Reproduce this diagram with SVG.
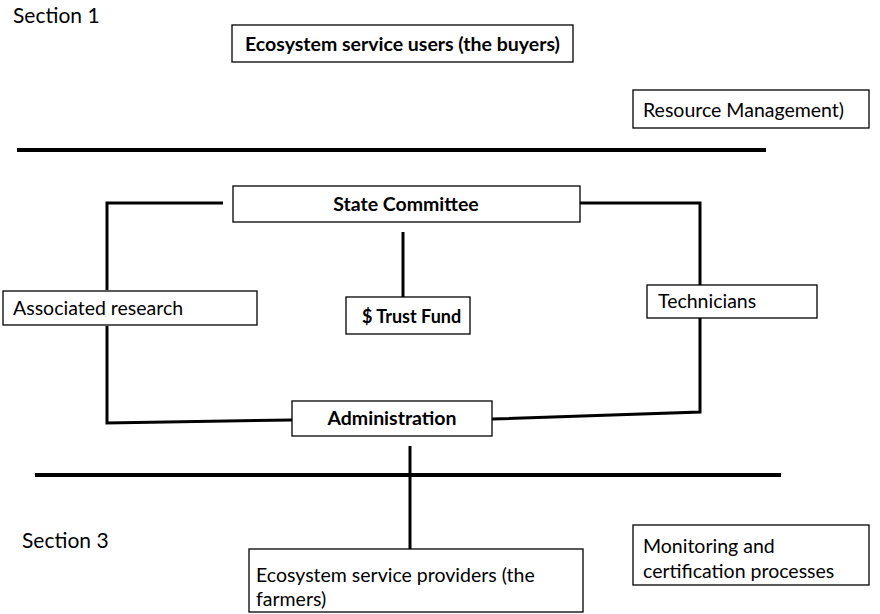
<svg xmlns="http://www.w3.org/2000/svg" width="880" height="614" viewBox="0 0 880 614">
<style>
  .box { fill: #fff; stroke: #000; stroke-width: 1.3; }
  .t { font-family: Lato, "Open Sans", "Liberation Sans", sans-serif; font-size: 19.5px; fill: #000; }
  .b { font-weight: bold; }
  .sm { font-size: 18px; }
  .sec { font-family: Lato, "Open Sans", "Liberation Sans", sans-serif; font-size: 21px; fill: #000; }
  .ln { fill: none; stroke: #000; stroke-width: 3; }
  .thick { fill: none; stroke: #000; stroke-width: 4; }
</style>
<rect width="880" height="614" fill="#fff"/>
<text class="sec" x="13" y="23">Section 1</text>
<text class="sec" x="22" y="548">Section 3</text>
<g id="connectors">
  <line class="thick" x1="17" y1="150" x2="766" y2="150"/>
  <line class="thick" x1="35" y1="475" x2="781" y2="475"/>
  <polyline class="ln" points="223,203 107,203 107,290"/>
  <polyline class="ln" points="107,326 107,423 292,420"/>
  <polyline class="ln" points="580,203 700,203 700,285"/>
  <polyline class="ln" points="700,318 700,412 492,419"/>
  <line class="ln" x1="403" y1="232" x2="403" y2="297"/>
  <line class="ln" x1="410" y1="446" x2="410" y2="549"/>
</g>
<g id="users">
  <rect class="box" x="232" y="25" width="341" height="37"/>
  <text class="t b" x="402.5" y="51" text-anchor="middle">Ecosystem service users (the buyers)</text>
</g>
<g id="resource">
  <rect class="box" x="633" y="90" width="236" height="38"/>
  <text class="t" x="643" y="117">Resource Management)</text>
</g>
<g id="state">
  <rect class="box" x="233" y="186" width="347" height="36"/>
  <text class="t b" x="406" y="211" text-anchor="middle">State Committee</text>
</g>
<g id="research">
  <rect class="box" x="3" y="291" width="254" height="34"/>
  <text class="t" x="13" y="315">Associated research</text>
</g>
<g id="trust">
  <rect class="box" x="346" y="297" width="124" height="37"/>
  <text class="t b sm" x="362" y="323">$ Trust Fund</text>
</g>
<g id="technicians">
  <rect class="box" x="647" y="285" width="170" height="33"/>
  <text class="t" x="658" y="308">Technicians</text>
</g>
<g id="administration">
  <rect class="box" x="292" y="401" width="200" height="35"/>
  <text class="t b" x="392" y="425" text-anchor="middle">Administration</text>
</g>
<g id="providers">
  <rect class="box" x="249" y="549" width="334" height="63"/>
  <text class="t" x="256" y="582">Ecosystem service providers (the</text>
  <text class="t" x="256" y="606">farmers)</text>
</g>
<g id="monitoring">
  <rect class="box" x="633" y="525" width="236" height="60"/>
  <text class="t" x="643" y="553">Monitoring and</text>
  <text class="t" x="643" y="578">certification processes</text>
</g>
</svg>
